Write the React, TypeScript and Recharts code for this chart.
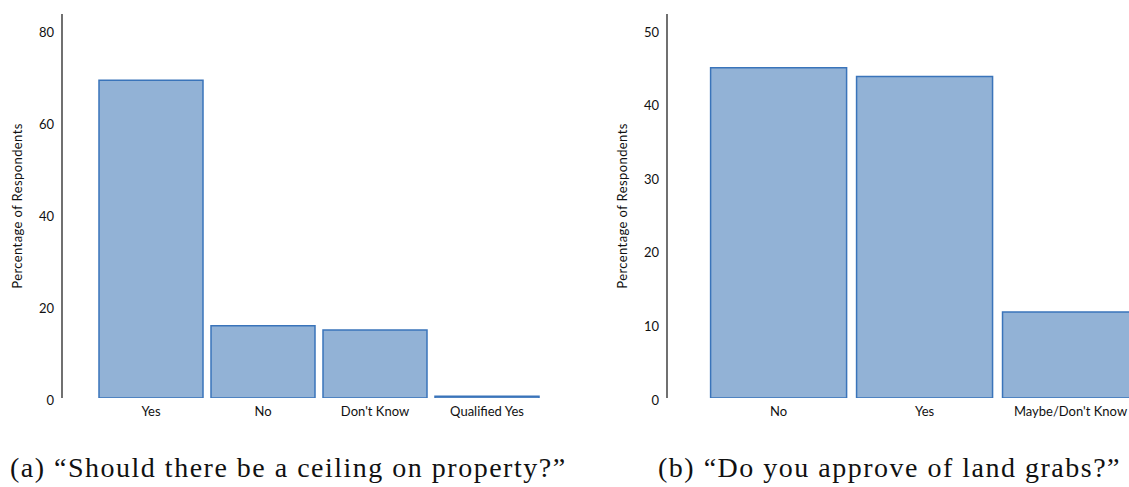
import { BarChart, Bar, XAxis, YAxis } from "recharts"

const ceilingCategories = ["Yes", "No", "Don't Know", "Qualified Yes"]
const ceilingValues = [69.1, 15.7, 14.8, 0.4]
const ceilingTicks = [0, 20, 40, 60, 80]

const grabCategories = ["No", "Yes", "Maybe/Don't Know"]
const grabValues = [44.9, 43.7, 11.7]
const grabTicks = [0, 10, 20, 30, 40, 50]

const ceilingData = ceilingCategories.map((name, i) => ({ name, value: ceilingValues[i] }))
const grabData = grabCategories.map((name, i) => ({ name, value: grabValues[i] }))

const tickFont = { fontSize: 13, fill: "#111", fontFamily: "Lato, sans-serif" }
const FILL = "#92b2d6"
const STROKE = "#3a74ba"

type PanelProps = {
  data: { name: string; value: number }[]
  ticks: number[]
  max: number
  width: number
  axisWidth: number
  padLeft: number
  gap: number
  rightMargin: number
  labelDx: number
}

function Panel({ data, ticks, max, width, axisWidth, padLeft, gap, rightMargin, labelDx }: PanelProps) {
  return (
    <BarChart
      width={width}
      height={430}
      data={data}
      barCategoryGap={gap}
      margin={{ top: 14, right: rightMargin, left: 0, bottom: 2 }}
    >
      <XAxis
        dataKey="name"
        axisLine={false}
        tickLine={false}
        tick={{ ...tickFont, dy: 1 }}
        interval={0}
        padding={{ left: padLeft, right: 0 }}
      />
      <YAxis
        width={axisWidth}
        domain={[0, max]}
        ticks={ticks}
        tickLine={false}
        axisLine={{ stroke: "#111", strokeWidth: 1.2 }}
        tick={{ ...tickFont, dy: 2 }}
        allowDataOverflow
        label={{
          value: "Percentage of Respondents",
          angle: -90,
          position: "center",
          dx: labelDx,
          style: { fontSize: 13, letterSpacing: 0.4, fill: "#111", fontFamily: "Lato, sans-serif" }
        }}
      />
      <Bar
        dataKey="value"
        fill={FILL}
        stroke={STROKE}
        strokeWidth={1.5}
        isAnimationActive={false}
      />
    </BarChart>
  )
}

const captionStyle: React.CSSProperties = {
  position: "absolute",
  top: 452,
  fontFamily: "'Liberation Serif', serif",
  fontSize: 28,
  letterSpacing: 1.5,
  lineHeight: "32px",
  color: "#111",
  whiteSpace: "nowrap"
}

export default function App() {
  return (
    <div
      style={{
        position: "absolute",
        left: 0,
        top: 0,
        width: 1129,
        height: 487,
        overflow: "hidden",
        background: "#fff"
      }}
    >
      <div style={{ position: "absolute", left: 0, top: 0 }}>
        <Panel
          data={ceilingData}
          ticks={ceilingTicks}
          max={83.5}
          width={560}
          axisWidth={62}
          padLeft={33}
          gap={4}
          rightMargin={17}
          labelDx={-14}
        />
      </div>
      <div style={{ position: "absolute", left: 580, top: 0 }}>
        <Panel
          data={grabData}
          ticks={grabTicks}
          max={52.2}
          width={580}
          axisWidth={87}
          padLeft={38.6}
          gap={5}
          rightMargin={16.5}
          labelDx={-1.5}
        />
      </div>
      <div style={{ ...captionStyle, left: 10 }}>
        (a) “Should there be a ceiling on property?”
      </div>
      <div style={{ ...captionStyle, left: 658 }}>
        (b) “Do you approve of land grabs?”
      </div>
    </div>
  )
}
